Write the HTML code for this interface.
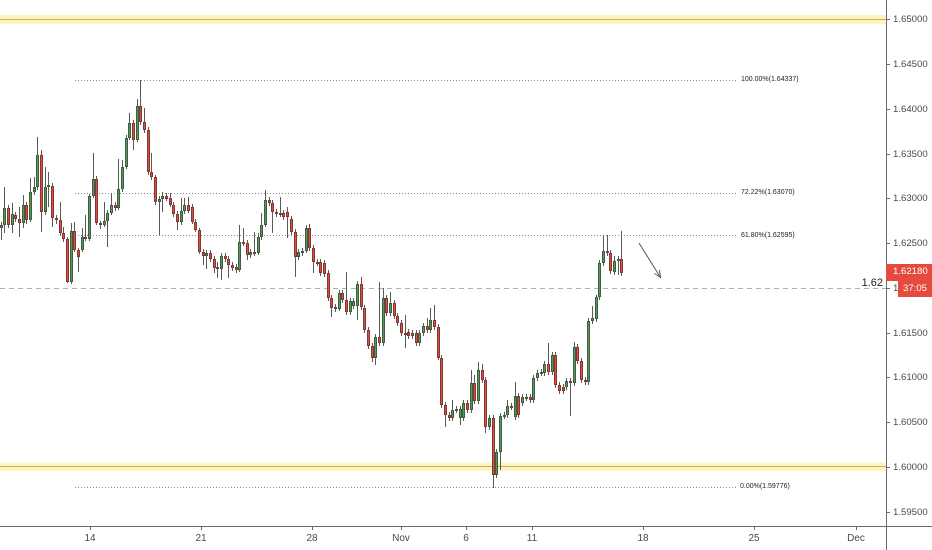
<!DOCTYPE html>
<html><head><meta charset="utf-8">
<style>
html,body{margin:0;padding:0;background:#fff;width:932px;height:550px;overflow:hidden;font-family:"Liberation Sans",sans-serif}
#w{position:relative;width:932px;height:550px;overflow:hidden}
svg{position:absolute;left:0;top:0}
#cs{position:absolute;left:-0.6px;top:0;height:526px;display:flex}
#cs i{position:relative;flex:none;width:3.685px;height:526px;display:block}
#cs i::before{content:"";position:absolute;left:1.35px;width:1px;top:calc(var(--h)*1px);height:calc((var(--l) - var(--h))*1px);background:#5a5a5a}
#cs i::after{content:"";position:absolute;left:0.35px;width:3px;top:calc(var(--t)*1px);height:calc(max(2, var(--b) - var(--t))*1px);background:#56975a;box-shadow:inset 0 0 0 1px rgba(35,35,35,.5)}
#cs i.r::after{background:#e24b40}
.t{position:absolute;white-space:nowrap}
.pl{left:893px;font-size:9.6px;line-height:12px;color:#4a4a4a}
.dl{width:40px;text-align:center;font-size:10px;line-height:12px;color:#4a4a4a;top:533px}
.fl{left:741px;font-size:7px;line-height:8px;color:#222}
</style></head><body><div id="w">
<svg width="932" height="550">
<rect x="0" y="15" width="886" height="9" fill="#fdf4c2"/>
<line x1="0" y1="19.5" x2="886" y2="19.5" stroke="#c6b35c" stroke-width="1"/>
<rect x="0" y="462.5" width="886" height="8.5" fill="#fdf4c2"/>
<line x1="0" y1="466.5" x2="886" y2="466.5" stroke="#c6b35c" stroke-width="1"/>
<g stroke="#8c8c8c" stroke-width="1" stroke-dasharray="1,2">
<line x1="75" y1="80.5" x2="737" y2="80.5"/>
<line x1="75" y1="193.5" x2="737" y2="193.5"/>
<line x1="75" y1="235.5" x2="737" y2="235.5"/>
<line x1="75" y1="487.5" x2="737" y2="487.5"/>
</g>
<line x1="0" y1="288.5" x2="886" y2="288.5" stroke="#b0b0b0" stroke-width="1" stroke-dasharray="5,4"/>
</svg>
<div id="cs">
<i style="--t:225;--b:228;--h:222;--l:240"></i>
<i style="--t:208;--b:225;--h:187;--l:233"></i>
<i class="r" style="--t:208;--b:225;--h:205;--l:228"></i>
<i style="--t:214;--b:225;--h:203;--l:233"></i>
<i class="r" style="--t:215;--b:219;--h:212;--l:222"></i>
<i class="r" style="--t:219;--b:223;--h:207;--l:237"></i>
<i style="--t:205;--b:223;--h:195;--l:228"></i>
<i class="r" style="--t:205;--b:220;--h:202;--l:224"></i>
<i style="--t:192;--b:220;--h:178;--l:222"></i>
<i style="--t:187;--b:192;--h:177;--l:195"></i>
<i style="--t:155;--b:187;--h:137;--l:190"></i>
<i class="r" style="--t:155;--b:212;--h:150;--l:232"></i>
<i style="--t:187;--b:212;--h:167;--l:215"></i>
<i style="--t:185;--b:187;--h:172;--l:207"></i>
<i class="r" style="--t:186;--b:218;--h:183;--l:227"></i>
<i class="r" style="--t:218;--b:220;--h:215;--l:224"></i>
<i class="r" style="--t:220;--b:233;--h:202;--l:236"></i>
<i class="r" style="--t:233;--b:239;--h:227;--l:242"></i>
<i class="r" style="--t:239;--b:282;--h:237;--l:283"></i>
<i style="--t:231;--b:282;--h:223;--l:284"></i>
<i class="r" style="--t:231;--b:250;--h:222;--l:252"></i>
<i class="r" style="--t:250;--b:257;--h:248;--l:272"></i>
<i style="--t:237;--b:250;--h:228;--l:252"></i>
<i class="r" style="--t:237;--b:239;--h:215;--l:241"></i>
<i style="--t:196;--b:239;--h:194;--l:241"></i>
<i style="--t:179;--b:196;--h:153;--l:198"></i>
<i class="r" style="--t:179;--b:223;--h:176;--l:225"></i>
<i class="r" style="--t:223;--b:225;--h:221;--l:229"></i>
<i style="--t:221;--b:225;--h:202;--l:227"></i>
<i style="--t:213;--b:221;--h:210;--l:247"></i>
<i style="--t:205;--b:213;--h:193;--l:215"></i>
<i class="r" style="--t:205;--b:208;--h:202;--l:211"></i>
<i style="--t:189;--b:208;--h:159;--l:210"></i>
<i style="--t:167;--b:189;--h:160;--l:192"></i>
<i style="--t:138;--b:167;--h:135;--l:169"></i>
<i style="--t:123;--b:138;--h:113;--l:140"></i>
<i class="r" style="--t:123;--b:140;--h:120;--l:150"></i>
<i style="--t:106;--b:140;--h:99;--l:142"></i>
<i class="r" style="--t:106;--b:122;--h:80;--l:125"></i>
<i class="r" style="--t:122;--b:130;--h:108;--l:133"></i>
<i class="r" style="--t:130;--b:172;--h:127;--l:175"></i>
<i class="r" style="--t:172;--b:177;--h:153;--l:180"></i>
<i class="r" style="--t:177;--b:202;--h:175;--l:205"></i>
<i style="--t:199;--b:202;--h:196;--l:235"></i>
<i style="--t:196;--b:199;--h:192;--l:212"></i>
<i class="r" style="--t:196;--b:199;--h:193;--l:201"></i>
<i class="r" style="--t:198;--b:205;--h:193;--l:207"></i>
<i class="r" style="--t:205;--b:214;--h:202;--l:217"></i>
<i class="r" style="--t:214;--b:222;--h:211;--l:230"></i>
<i style="--t:211;--b:222;--h:198;--l:225"></i>
<i style="--t:205;--b:211;--h:198;--l:214"></i>
<i class="r" style="--t:205;--b:211;--h:197;--l:213"></i>
<i class="r" style="--t:207;--b:222;--h:204;--l:224"></i>
<i class="r" style="--t:222;--b:230;--h:219;--l:232"></i>
<i class="r" style="--t:230;--b:252;--h:228;--l:254"></i>
<i class="r" style="--t:252;--b:256;--h:249;--l:265"></i>
<i style="--t:253;--b:256;--h:250;--l:269"></i>
<i class="r" style="--t:253;--b:259;--h:250;--l:262"></i>
<i class="r" style="--t:259;--b:268;--h:256;--l:273"></i>
<i class="r" style="--t:267;--b:269;--h:262;--l:278"></i>
<i style="--t:256;--b:269;--h:253;--l:280"></i>
<i class="r" style="--t:256;--b:259;--h:253;--l:262"></i>
<i class="r" style="--t:259;--b:265;--h:256;--l:278"></i>
<i class="r" style="--t:265;--b:268;--h:262;--l:271"></i>
<i class="r" style="--t:267;--b:270;--h:264;--l:273"></i>
<i style="--t:242;--b:270;--h:225;--l:272"></i>
<i class="r" style="--t:242;--b:243;--h:228;--l:246"></i>
<i class="r" style="--t:243;--b:255;--h:240;--l:260"></i>
<i style="--t:252;--b:255;--h:249;--l:258"></i>
<i class="r" style="--t:252;--b:253;--h:232;--l:256"></i>
<i style="--t:237;--b:253;--h:233;--l:255"></i>
<i style="--t:225;--b:237;--h:213;--l:240"></i>
<i style="--t:200;--b:225;--h:190;--l:227"></i>
<i class="r" style="--t:200;--b:203;--h:197;--l:206"></i>
<i class="r" style="--t:203;--b:212;--h:200;--l:233"></i>
<i class="r" style="--t:212;--b:214;--h:209;--l:217"></i>
<i style="--t:213;--b:214;--h:197;--l:217"></i>
<i class="r" style="--t:213;--b:217;--h:210;--l:220"></i>
<i class="r" style="--t:212;--b:217;--h:207;--l:238"></i>
<i class="r" style="--t:219;--b:232;--h:216;--l:235"></i>
<i class="r" style="--t:232;--b:257;--h:229;--l:277"></i>
<i style="--t:252;--b:257;--h:249;--l:260"></i>
<i style="--t:251;--b:253;--h:248;--l:256"></i>
<i style="--t:228;--b:251;--h:225;--l:253"></i>
<i class="r" style="--t:228;--b:248;--h:224;--l:251"></i>
<i class="r" style="--t:248;--b:262;--h:245;--l:273"></i>
<i class="r" style="--t:262;--b:263;--h:259;--l:266"></i>
<i class="r" style="--t:262;--b:273;--h:259;--l:276"></i>
<i class="r" style="--t:263;--b:274;--h:260;--l:277"></i>
<i class="r" style="--t:273;--b:298;--h:270;--l:301"></i>
<i class="r" style="--t:298;--b:308;--h:295;--l:317"></i>
<i style="--t:307;--b:309;--h:304;--l:312"></i>
<i style="--t:293;--b:309;--h:290;--l:311"></i>
<i class="r" style="--t:293;--b:300;--h:290;--l:303"></i>
<i class="r" style="--t:300;--b:312;--h:272;--l:315"></i>
<i style="--t:301;--b:312;--h:298;--l:315"></i>
<i style="--t:301;--b:306;--h:298;--l:309"></i>
<i style="--t:284;--b:306;--h:281;--l:320"></i>
<i class="r" style="--t:284;--b:307;--h:277;--l:310"></i>
<i class="r" style="--t:308;--b:330;--h:305;--l:333"></i>
<i class="r" style="--t:330;--b:346;--h:327;--l:349"></i>
<i class="r" style="--t:346;--b:358;--h:343;--l:362"></i>
<i style="--t:337;--b:358;--h:334;--l:365"></i>
<i class="r" style="--t:337;--b:343;--h:282;--l:346"></i>
<i style="--t:298;--b:343;--h:288;--l:346"></i>
<i class="r" style="--t:298;--b:313;--h:295;--l:316"></i>
<i style="--t:303;--b:313;--h:292;--l:316"></i>
<i class="r" style="--t:303;--b:316;--h:300;--l:319"></i>
<i class="r" style="--t:316;--b:323;--h:313;--l:326"></i>
<i class="r" style="--t:323;--b:333;--h:320;--l:336"></i>
<i class="r" style="--t:333;--b:334;--h:315;--l:348"></i>
<i class="r" style="--t:332;--b:336;--h:329;--l:339"></i>
<i style="--t:333;--b:336;--h:330;--l:339"></i>
<i class="r" style="--t:333;--b:343;--h:330;--l:346"></i>
<i style="--t:333;--b:343;--h:330;--l:346"></i>
<i style="--t:326;--b:333;--h:323;--l:336"></i>
<i class="r" style="--t:326;--b:330;--h:318;--l:333"></i>
<i style="--t:320;--b:330;--h:308;--l:333"></i>
<i class="r" style="--t:320;--b:327;--h:305;--l:330"></i>
<i class="r" style="--t:327;--b:358;--h:324;--l:360"></i>
<i class="r" style="--t:358;--b:405;--h:355;--l:408"></i>
<i class="r" style="--t:405;--b:415;--h:402;--l:427"></i>
<i class="r" style="--t:415;--b:418;--h:412;--l:421"></i>
<i style="--t:410;--b:418;--h:400;--l:421"></i>
<i style="--t:409;--b:410;--h:406;--l:413"></i>
<i style="--t:409;--b:418;--h:406;--l:425"></i>
<i style="--t:403;--b:418;--h:400;--l:421"></i>
<i class="r" style="--t:403;--b:410;--h:400;--l:413"></i>
<i style="--t:383;--b:410;--h:370;--l:413"></i>
<i class="r" style="--t:383;--b:401;--h:375;--l:404"></i>
<i style="--t:370;--b:401;--h:362;--l:404"></i>
<i class="r" style="--t:370;--b:380;--h:364;--l:383"></i>
<i class="r" style="--t:380;--b:427;--h:377;--l:433"></i>
<i style="--t:418;--b:427;--h:415;--l:430"></i>
<i class="r" style="--t:418;--b:475;--h:415;--l:488"></i>
<i style="--t:452;--b:475;--h:449;--l:478"></i>
<i style="--t:416;--b:452;--h:413;--l:470"></i>
<i style="--t:415;--b:416;--h:412;--l:419"></i>
<i style="--t:406;--b:415;--h:400;--l:418"></i>
<i class="r" style="--t:406;--b:407;--h:403;--l:410"></i>
<i style="--t:396;--b:417;--h:382;--l:420"></i>
<i class="r" style="--t:396;--b:415;--h:393;--l:418"></i>
<i style="--t:397;--b:403;--h:394;--l:406"></i>
<i style="--t:397;--b:398;--h:394;--l:401"></i>
<i class="r" style="--t:397;--b:400;--h:394;--l:403"></i>
<i style="--t:378;--b:400;--h:375;--l:403"></i>
<i style="--t:373;--b:378;--h:370;--l:381"></i>
<i style="--t:372;--b:373;--h:369;--l:376"></i>
<i style="--t:364;--b:373;--h:361;--l:376"></i>
<i class="r" style="--t:364;--b:372;--h:343;--l:375"></i>
<i style="--t:355;--b:372;--h:352;--l:375"></i>
<i class="r" style="--t:355;--b:385;--h:352;--l:388"></i>
<i class="r" style="--t:385;--b:391;--h:382;--l:394"></i>
<i class="r" style="--t:387;--b:391;--h:384;--l:394"></i>
<i style="--t:381;--b:387;--h:378;--l:390"></i>
<i class="r" style="--t:381;--b:383;--h:378;--l:416"></i>
<i style="--t:347;--b:383;--h:342;--l:386"></i>
<i class="r" style="--t:347;--b:361;--h:344;--l:364"></i>
<i class="r" style="--t:361;--b:380;--h:358;--l:383"></i>
<i class="r" style="--t:380;--b:382;--h:377;--l:385"></i>
<i style="--t:321;--b:382;--h:318;--l:385"></i>
<i style="--t:318;--b:321;--h:306;--l:324"></i>
<i style="--t:297;--b:319;--h:295;--l:322"></i>
<i style="--t:263;--b:297;--h:260;--l:300"></i>
<i style="--t:251;--b:263;--h:235;--l:266"></i>
<i class="r" style="--t:251;--b:253;--h:235;--l:256"></i>
<i class="r" style="--t:253;--b:271;--h:250;--l:274"></i>
<i style="--t:261;--b:272;--h:256;--l:275"></i>
<i style="--t:259;--b:261;--h:256;--l:275"></i>
<i class="r" style="--t:259;--b:273;--h:231;--l:276"></i>
</div>
<svg width="932" height="550">
<g stroke="#555" stroke-width="1" fill="none">
<line x1="639" y1="243" x2="660.5" y2="277.5"/>
<polyline points="659.5,270 660.5,277.5 654.5,273.5"/>
</g>
<line x1="886.5" y1="0" x2="886.5" y2="550" stroke="#6b6b6b" stroke-width="1"/>
<line x1="0" y1="526.5" x2="932" y2="526.5" stroke="#6b6b6b" stroke-width="1"/>
<g stroke="#6b6b6b" stroke-width="1">
<line x1="886" y1="19.5" x2="890" y2="19.5"/>
<line x1="886" y1="64.5" x2="890" y2="64.5"/>
<line x1="886" y1="109.5" x2="890" y2="109.5"/>
<line x1="886" y1="154.5" x2="890" y2="154.5"/>
<line x1="886" y1="198.5" x2="890" y2="198.5"/>
<line x1="886" y1="243.5" x2="890" y2="243.5"/>
<line x1="886" y1="288.5" x2="890" y2="288.5"/>
<line x1="886" y1="333.5" x2="890" y2="333.5"/>
<line x1="886" y1="377.5" x2="890" y2="377.5"/>
<line x1="886" y1="422.5" x2="890" y2="422.5"/>
<line x1="886" y1="467.5" x2="890" y2="467.5"/>
<line x1="886" y1="512.5" x2="890" y2="512.5"/>
<line x1="90.5" y1="527" x2="90.5" y2="530"/>
<line x1="201.5" y1="527" x2="201.5" y2="530"/>
<line x1="312.5" y1="527" x2="312.5" y2="530"/>
<line x1="401.5" y1="527" x2="401.5" y2="530"/>
<line x1="466.5" y1="527" x2="466.5" y2="530"/>
<line x1="532.5" y1="527" x2="532.5" y2="530"/>
<line x1="643.5" y1="527" x2="643.5" y2="530"/>
<line x1="754.5" y1="527" x2="754.5" y2="530"/>
<line x1="856.5" y1="527" x2="856.5" y2="530"/>
</g>
</svg>
<div class="t fl" style="top:76px">100.00%(1.64337)</div>
<div class="t fl" style="top:189px">72.22%(1.63070)</div>
<div class="t fl" style="top:232px">61.80%(1.62595)</div>
<div class="t fl" style="top:483px;left:740px">0.00%(1.59776)</div>
<div class="t" style="left:845px;width:38px;text-align:right;top:277px;font-size:11px;line-height:12px;color:#222">1.62</div>
<div class="t pl" style="top:14px">1.65000</div>
<div class="t pl" style="top:59px">1.64500</div>
<div class="t pl" style="top:104px">1.64000</div>
<div class="t pl" style="top:149px">1.63500</div>
<div class="t pl" style="top:193px">1.63000</div>
<div class="t pl" style="top:238px">1.62500</div>
<div class="t pl" style="top:283px">1.62000</div>
<div class="t pl" style="top:328px">1.61500</div>
<div class="t pl" style="top:372px">1.61000</div>
<div class="t pl" style="top:417px">1.60500</div>
<div class="t pl" style="top:462px">1.60000</div>
<div class="t pl" style="top:507px">1.59500</div>
<div class="t" style="left:886px;top:264px;width:46px;height:17px;background:#e6493e"></div>
<div class="t pl" style="top:266px;color:#fff">1.62180</div>
<div class="t" style="left:898px;top:281px;width:34px;height:16px;background:#e6493e;color:#fff;font-size:9.6px;line-height:16px;text-align:center">37:05</div>
<div class="t dl" style="left:70px">14</div>
<div class="t dl" style="left:181px">21</div>
<div class="t dl" style="left:292px">28</div>
<div class="t dl" style="left:381px">Nov</div>
<div class="t dl" style="left:446px">6</div>
<div class="t dl" style="left:512px">11</div>
<div class="t dl" style="left:623px">18</div>
<div class="t dl" style="left:734px">25</div>
<div class="t dl" style="left:836px">Dec</div>
</div></body></html>
